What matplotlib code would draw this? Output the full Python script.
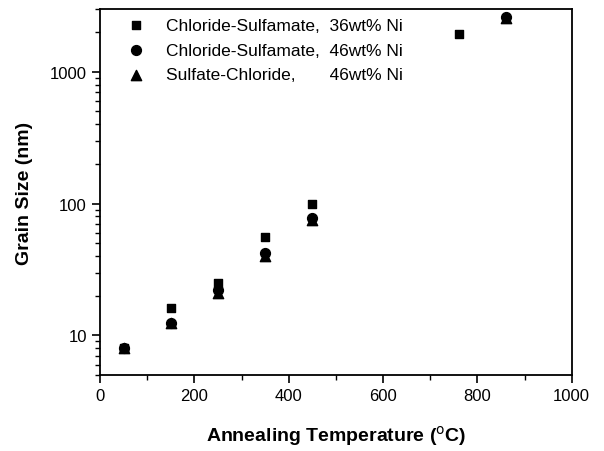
import matplotlib
matplotlib.use("Agg")
import matplotlib.pyplot as plt
from matplotlib.ticker import LogLocator, MultipleLocator, NullFormatter

plt.rcParams['font.family'] = ['Liberation Sans', 'DejaVu Sans']

# Data
temp_cs36 = [50, 150, 250, 350, 450, 760]
size_cs36 = [8, 16, 25, 56, 100, 1950]
temp_cs46 = [50, 150, 250, 350, 450, 860]
size_cs46 = [8, 12.5, 22, 42, 78, 2600]
temp_sc46 = [50, 150, 250, 350, 450, 860]
size_sc46 = [8, 12.5, 21, 40, 75, 2580]
labels = ["Chloride-Sulfamate,  36wt% Ni",
          "Chloride-Sulfamate,  46wt% Ni",
          "Sulfate-Chloride,       46wt% Ni"]

fig = plt.figure(figsize=(6.04, 4.52), dpi=100)
ax = fig.add_axes([0.1656, 0.168, 0.781, 0.81])

ax.scatter(temp_cs36, size_cs36, marker='s', s=40, color='black', label=labels[0], zorder=3)
ax.scatter(temp_cs46, size_cs46, marker='o', s=50, color='black', label=labels[1], zorder=3)
ax.scatter(temp_sc46, size_sc46, marker='^', s=55, color='black', label=labels[2], zorder=3)

ax.set_yscale('log')
ax.set_xlim(0, 1000)
ax.set_ylim(5, 3000)
ax.xaxis.set_major_locator(MultipleLocator(200))
ax.xaxis.set_minor_locator(MultipleLocator(100))
ax.yaxis.set_minor_locator(LogLocator(base=10, subs=range(2, 10), numticks=10))
ax.yaxis.set_minor_formatter(NullFormatter())
ax.set_yticks([10, 100, 1000])
ax.set_yticklabels(['10', '100', '1000'])

ax.tick_params(axis='both', which='major', direction='out', length=6, width=1.2,
               labelsize=12, top=False, right=False)
ax.tick_params(axis='both', which='minor', direction='out', length=3.5, width=1,
               top=False, right=False)
for sp in ax.spines.values():
    sp.set_linewidth(1.3)

ax.set_xlabel('Annealing Temperature ($^{\\mathrm{o}}$C)', fontsize=14, fontweight='bold', labelpad=14)
ax.set_ylabel('Grain Size (nm)', fontsize=14, fontweight='bold', labelpad=12)

leg = ax.legend(loc='upper left', frameon=False, fontsize=12.5, handletextpad=0.7,
                borderaxespad=0.0, labelspacing=0.55, scatterpoints=1,
                bbox_to_anchor=(0.025, 0.995))

fig.savefig('out.png', dpi=100)
